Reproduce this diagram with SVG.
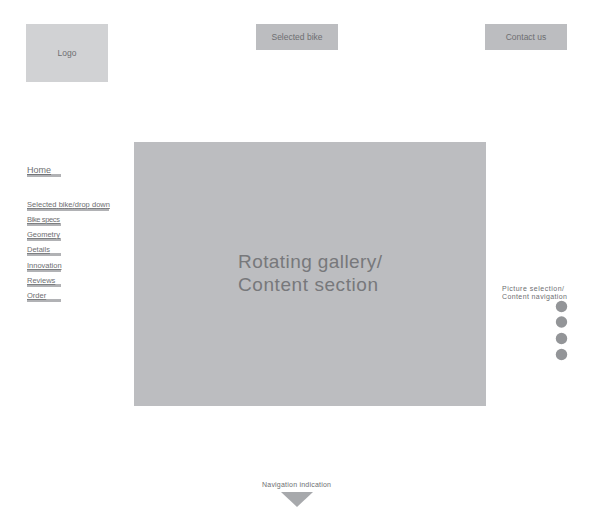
<svg xmlns="http://www.w3.org/2000/svg" width="594" height="508" viewBox="0 0 594 508">
<style>
.t{font-family:"Liberation Sans","DejaVu Sans",sans-serif;fill:#6d6e71}
.nav{font-size:7.5px;text-decoration:underline}
.bar{fill:#b1b2b5}
.dot{fill:#939598}
</style>
<rect width="594" height="508" fill="#ffffff"/>
<g id="logo"><rect x="26" y="24" width="82" height="58" fill="#d1d2d4"/><text class="t" x="67" y="56" font-size="8.5" text-anchor="middle">Logo</text></g>
<g id="selected-bike"><rect x="256" y="24" width="82" height="26" fill="#bcbdc0"/><text class="t" x="297" y="40" font-size="8.5" text-anchor="middle">Selected bike</text></g>
<g id="contact-us"><rect x="485" y="24" width="82" height="26" fill="#bcbdc0"/><text class="t" x="526" y="40" font-size="8.5" text-anchor="middle">Contact us</text></g>
<g id="gallery"><rect x="134" y="142" width="352" height="264" fill="#bcbdc0"/>
<text class="t" x="238" y="268" font-size="19" textLength="144" style="fill:#77787b">Rotating gallery/</text>
<text class="t" x="238" y="291" font-size="19" textLength="140" style="fill:#77787b">Content section</text></g>
<g id="side-nav">
<rect class="bar" x="27" y="174" width="34" height="3"/><text class="t" x="27" y="173" font-size="9" text-decoration="underline">Home</text>
<rect class="bar" x="27" y="208" width="82" height="3"/><text class="t nav" x="27" y="207" textLength="83">Selected bike/drop down</text>
<rect class="bar" x="27" y="223" width="34" height="3"/><text class="t nav" x="27" y="222" textLength="33">Bike specs</text>
<rect class="bar" x="27" y="238" width="34" height="3"/><text class="t nav" x="27" y="237">Geometry</text>
<rect class="bar" x="27" y="253" width="34" height="3"/><text class="t nav" x="27" y="252">Details</text>
<rect class="bar" x="27" y="269" width="34" height="3"/><text class="t nav" x="27" y="268">Innovation</text>
<rect class="bar" x="27" y="284" width="34" height="3"/><text class="t nav" x="27" y="283">Reviews</text>
<rect class="bar" x="27" y="299" width="34" height="3"/><text class="t nav" x="27" y="298">Order</text>
</g>
<g id="picture-selection">
<text class="t" x="502" y="291" font-size="7" textLength="62">Picture selection/</text>
<text class="t" x="502" y="298.5" font-size="7" textLength="65">Content navigation</text>
<circle class="dot" cx="561.5" cy="306.5" r="5.7"/>
<circle class="dot" cx="561.5" cy="322" r="5.7"/>
<circle class="dot" cx="561.5" cy="338.5" r="5.7"/>
<circle class="dot" cx="561.5" cy="354.5" r="5.7"/>
</g>
<g id="navigation-indication">
<text class="t" x="262" y="487" font-size="7" textLength="69">Navigation indication</text>
<polygon points="281,492 313,492 297,507" fill="#a7a9ac"/>
</g>
<g id="connectors"/>
</svg>
